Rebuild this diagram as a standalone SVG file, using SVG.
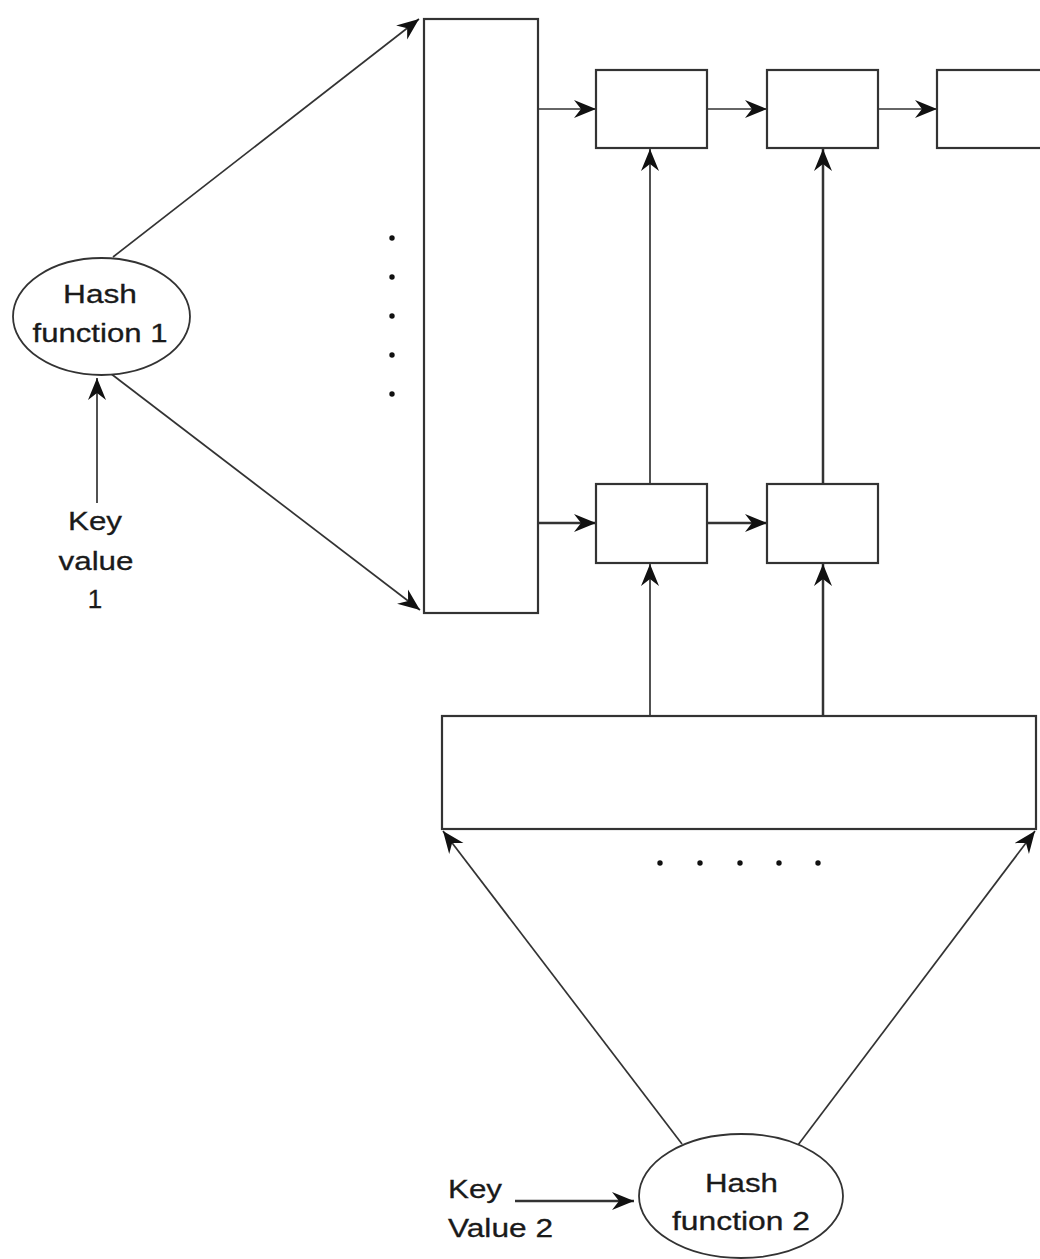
<svg xmlns="http://www.w3.org/2000/svg" width="1040" height="1259" viewBox="0 0 1040 1259">
<defs>
<style>
.box{fill:#fff;stroke:#333;stroke-width:2.2}
.ln{fill:none;stroke:#333;stroke-width:1.7}
.lnb{fill:none;stroke:#333;stroke-width:2.5}
.t{font-family:"Liberation Sans",Arial,sans-serif;font-size:26px;fill:#1a1a1a;text-anchor:middle;stroke:#1a1a1a;stroke-width:0.3}
.dot{fill:#111}
</style>
<marker id="ah" markerUnits="userSpaceOnUse" markerWidth="24" markerHeight="20" refX="22" refY="9" orient="auto" viewBox="0 0 24 18">
<path d="M0,0 L22,9 L0,18 L7,9 z" fill="#111"/>
</marker>
</defs>
<g id="connectors">
<line class="ln" x1="113" y1="257" x2="419" y2="19" marker-end="url(#ah)"/>
<line class="ln" x1="110" y1="373" x2="420" y2="610" marker-end="url(#ah)"/>
<line class="ln" x1="97" y1="503" x2="97" y2="378" marker-end="url(#ah)"/>
<line class="ln" x1="538" y1="109" x2="596" y2="109" marker-end="url(#ah)"/>
<line class="ln" x1="707" y1="109" x2="767" y2="109" marker-end="url(#ah)"/>
<line class="ln" x1="878" y1="109" x2="937" y2="109" marker-end="url(#ah)"/>
<line class="lnb" x1="538" y1="523" x2="596" y2="523" marker-end="url(#ah)"/>
<line class="lnb" x1="707" y1="523" x2="767" y2="523" marker-end="url(#ah)"/>
<line class="ln" x1="650" y1="484" x2="650" y2="149" marker-end="url(#ah)"/>
<line class="lnb" x1="823" y1="484" x2="823" y2="149" marker-end="url(#ah)"/>
<line class="ln" x1="650" y1="716" x2="650" y2="564" marker-end="url(#ah)"/>
<line class="lnb" x1="823" y1="716" x2="823" y2="564" marker-end="url(#ah)"/>
<line class="ln" x1="682" y1="1144" x2="443" y2="831" marker-end="url(#ah)"/>
<line class="ln" x1="798" y1="1145" x2="1035" y2="831" marker-end="url(#ah)"/>
<line class="lnb" x1="515" y1="1201" x2="634" y2="1201" marker-end="url(#ah)"/>
</g>
<g id="bucket-array-1">
<rect class="box" x="424" y="19" width="114" height="594"/>
<circle class="dot" cx="392" cy="238" r="2.7"/>
<circle class="dot" cx="392" cy="277" r="2.7"/>
<circle class="dot" cx="392" cy="316" r="2.7"/>
<circle class="dot" cx="392" cy="355" r="2.7"/>
<circle class="dot" cx="392" cy="394" r="2.7"/>
</g>
<g id="node-a"><rect class="box" x="596" y="70" width="111" height="78"/></g>
<g id="node-b"><rect class="box" x="767" y="70" width="111" height="78"/></g>
<g id="node-c"><rect class="box" x="937" y="70" width="130" height="78"/></g>
<g id="node-d"><rect class="box" x="596" y="484" width="111" height="79"/></g>
<g id="node-e"><rect class="box" x="767" y="484" width="111" height="79"/></g>
<g id="bucket-array-2">
<rect class="box" x="442" y="716" width="594" height="113"/>
<circle class="dot" cx="660" cy="863" r="2.7"/>
<circle class="dot" cx="700" cy="863" r="2.7"/>
<circle class="dot" cx="740" cy="863" r="2.7"/>
<circle class="dot" cx="779" cy="863" r="2.7"/>
<circle class="dot" cx="818" cy="863" r="2.7"/>
</g>
<g id="hash-function-1">
<ellipse class="box" cx="101.5" cy="316.5" rx="88.5" ry="58.5" style="stroke-width:1.8"/>
<text class="t" x="100" y="303" textLength="74" lengthAdjust="spacingAndGlyphs">Hash</text>
<text class="t" x="100" y="342" textLength="135" lengthAdjust="spacingAndGlyphs">function 1</text>
</g>
<g id="key-value-1">
<text class="t" x="95" y="530" textLength="54" lengthAdjust="spacingAndGlyphs">Key</text>
<text class="t" x="96" y="570" textLength="75" lengthAdjust="spacingAndGlyphs">value</text>
<text class="t" x="95" y="608">1</text>
</g>
<g id="hash-function-2">
<ellipse class="box" cx="741" cy="1196" rx="102" ry="62" style="stroke-width:1.8"/>
<text class="t" x="741.5" y="1192" textLength="73" lengthAdjust="spacingAndGlyphs">Hash</text>
<text class="t" x="741" y="1230" textLength="138" lengthAdjust="spacingAndGlyphs">function 2</text>
</g>
<g id="key-value-2">
<text class="t" x="448" y="1198" style="text-anchor:start" textLength="54" lengthAdjust="spacingAndGlyphs">Key</text>
<text class="t" x="448" y="1237" style="text-anchor:start" textLength="105" lengthAdjust="spacingAndGlyphs">Value 2</text>
</g>
</svg>
